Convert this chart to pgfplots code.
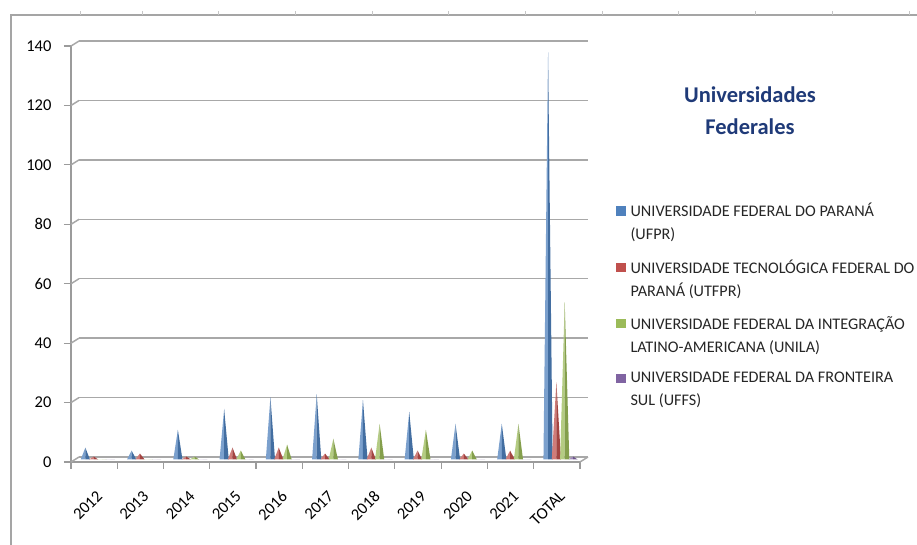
\documentclass[border=0pt]{standalone}
\usepackage{pgfplots}
\pgfplotsset{compat=1.18}
\usepackage{pgfplotstable}
\usepackage{fontspec}
\setmainfont{Carlito}
\definecolor{ufpr}{RGB}{79,129,189}
\definecolor{utfpr}{RGB}{192,80,77}
\definecolor{unila}{RGB}{155,187,89}
\definecolor{uffs}{RGB}{128,100,162}
\colorlet{ufprL}{ufpr!75!white}\colorlet{ufprD}{ufpr!85!black}
\colorlet{utfprL}{utfpr!75!white}\colorlet{utfprD}{utfpr!85!black}
\colorlet{unilaL}{unila!75!white}\colorlet{unilaD}{unila!85!black}
\colorlet{uffsL}{uffs!75!white}\colorlet{uffsD}{uffs!85!black}
\definecolor{axgray}{RGB}{155,155,155}
\definecolor{grgray}{RGB}{168,168,168}
\definecolor{titleblue}{RGB}{31,58,120}
\definecolor{framegray}{RGB}{165,165,165}

\newcommand\conehw{4.6pt}
\newcommand\declarecone[3]{%
  \pgfdeclareplotmark{#1}{%
    \pgfpathmoveto{\pgfpoint{-\conehw}{2.5pt-\val*2.971pt}}%
    \pgfpathlineto{\pgfpoint{0pt}{2.5pt}}%
    \pgfpathlineto{\pgfpoint{0pt}{2.5pt-\val*2.971pt}}%
    \pgfpathclose
    \pgfsetfillcolor{#2}\pgfusepath{fill}%
    \pgfpathmoveto{\pgfpoint{0pt}{2.5pt-\val*2.971pt}}%
    \pgfpathlineto{\pgfpoint{0pt}{2.5pt}}%
    \pgfpathlineto{\pgfpoint{\conehw}{2.5pt-\val*2.971pt}}%
    \pgfpathclose
    \pgfsetfillcolor{#3}\pgfusepath{fill}%
  }}
\declarecone{cone-ufpr}{ufprL}{ufprD}
\declarecone{cone-utfpr}{utfprL}{utfprD}
\declarecone{cone-unila}{unilaL}{unilaD}
\declarecone{cone-uffs}{uffsL}{uffsD}

\pgfplotstableread{
x  ufpr utfpr unila uffs
0  4    1     0     0
1  3    2     0     0
2  10   1     1     0
3  17   4     3     0
4  21   4     5     0
5  22   2     7     0
6  20   4     12    0
7  16   3     10    0
8  12   2     3     0
9  12   3     12    0
10 137  26    53    1
}\datatable

\begin{document}
\begin{tikzpicture}
\path[use as bounding box] (-71pt,-83pt) rectangle (846pt,462pt);
\draw[framegray, line width=1.4pt] (-60pt,-90pt) -- (-60pt,447pt) -- (850pt,447pt);
\foreach \t in {80,142,218,295,372,448,525,602,678,755,832,909}
  \draw[gray!45, line width=0.8pt] ({\t pt-71pt},447pt) -- ++(0,4pt);
\begin{axis}[
  at={(0,0)}, anchor=south west,
  x=46.27pt, y=2.971pt,
  xmin=-0.5, xmax=10.5, ymin=0, ymax=140,
  clip=false,
  axis x line*=bottom, axis y line*=left,
  axis line style={axgray, line width=1.3pt, -},
  tick align=outside,
  major tick length=7pt,
  tick style={axgray, line width=1.2pt},
  ytick={0,20,...,140},
  yticklabel style={xshift=-9pt},
  xtick={-0.5,0.5,...,10.5},
  xticklabels={},
  extra x ticks={0,1,...,10},
  extra x tick labels={2012,2013,2014,2015,2016,2017,2018,2019,2020,2021,TOTAL},
  extra x tick style={major tick length=0pt,
    tick label style={rotate=45, anchor=east, xshift=-15pt, yshift=-26pt,
      font=\fontsize{16.5}{19}\selectfont}},
  ymajorgrids,
  major grid style={grgray, line width=1.5pt, xshift=8pt, yshift=5pt},
  tick label style={font=\fontsize{16.5}{19}\selectfont, black},
  /pgf/number format/assume math mode=true,
  title={Universidades\\Federales},
  title style={align=center, font=\bfseries\fontsize{22.5}{32}\selectfont,
    color=titleblue, at={(1.334,0.829)}, anchor=center},
  legend style={draw=none, fill=none, at={(1.0707,0.627)}, anchor=north west,
    font=\fontsize{16.2}{23}\selectfont, cells={align=left, anchor=west},
    row sep=14.5pt, column sep=3pt, inner sep=0pt, text=black!85},
]
\pgfplotsinvokeforeach{0,20,...,140}{
  \draw[grgray, line width=1.5pt] (axis cs:-0.5,#1) -- ++(8pt,5pt);
}
\draw[grgray, line width=1.5pt] (axis cs:10.5,0) -- ++(8pt,5pt);

\addplot[only marks, mark=cone-ufpr, visualization depends on={rawy \as \val},
  legend image code/.code={\fill[ufpr] (0pt,7.5pt) rectangle (9pt,16pt);}]
  table[x expr=\thisrow{x}-0.19, y=ufpr] {\datatable};
\addlegendentry{UNIVERSIDADE FEDERAL DO PARANÁ\\(UFPR)}
\addplot[only marks, mark=cone-utfpr, visualization depends on={rawy \as \val},
  legend image code/.code={\fill[utfpr] (0pt,7.5pt) rectangle (9pt,16pt);}]
  table[x expr=\thisrow{x}-0.01, y=utfpr] {\datatable};
\addlegendentry{UNIVERSIDADE TECNOLÓGICA FEDERAL DO\\PARANÁ (UTFPR)}
\addplot[only marks, mark=cone-unila, visualization depends on={rawy \as \val},
  legend image code/.code={\fill[unila] (0pt,7.5pt) rectangle (9pt,16pt);}]
  table[x expr=\thisrow{x}+0.17, y=unila] {\datatable};
\addlegendentry{UNIVERSIDADE FEDERAL DA INTEGRAÇÃO\\LATINO-AMERICANA (UNILA)}
\addplot[only marks, mark=cone-uffs, visualization depends on={rawy \as \val},
  legend image code/.code={\fill[uffs] (0pt,7.5pt) rectangle (9pt,16pt);}]
  table[x expr=\thisrow{x}+0.35, y=uffs] {\datatable};
\addlegendentry{UNIVERSIDADE FEDERAL DA FRONTEIRA\\SUL (UFFS)}
\end{axis}
\end{tikzpicture}
\end{document}
